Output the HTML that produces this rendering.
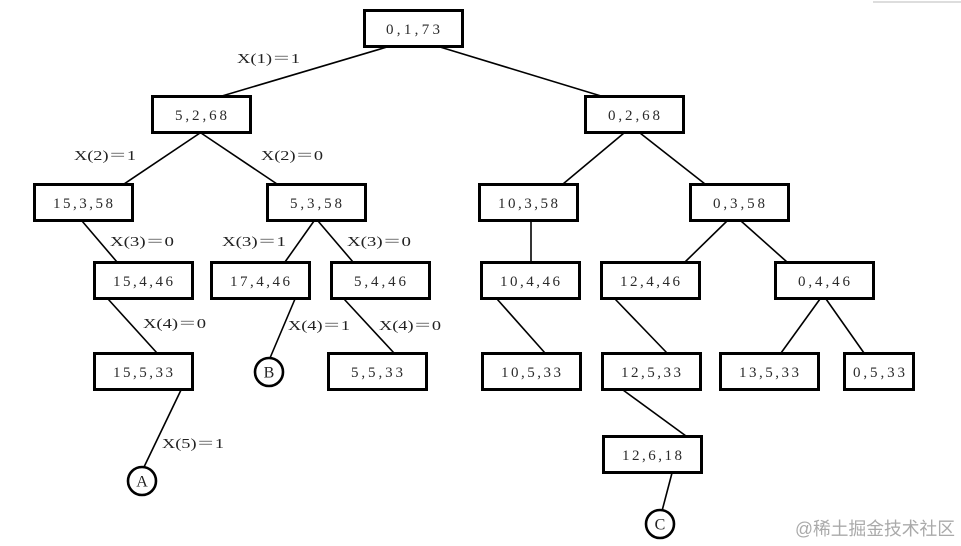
<!DOCTYPE html>
<html><head><meta charset="utf-8"><style>
html,body{margin:0;padding:0;background:#fff;}
svg{display:block;}
.b{fill:#fff;stroke:#000;stroke-width:3;}
.l{stroke:#000;stroke-width:1.6;fill:none;}
.t{font-family:"Liberation Serif","Noto Serif CJK SC",serif;font-size:15px;fill:#2a2a2a;}
.e{font-family:"Liberation Serif","Noto Serif CJK SC",serif;font-size:14px;fill:#222;}
.c{fill:#fff;stroke:#000;stroke-width:2.6;}
.k{font-family:"Liberation Serif",serif;font-size:16px;fill:#222;}
</style></head><body>
<svg width="961" height="546" viewBox="0 0 961 546" xmlns="http://www.w3.org/2000/svg">
<line x1="873" y1="2" x2="961" y2="2" stroke="#bbb" stroke-width="1"/>
<g class="l">
<line x1="387" y1="47" x2="222" y2="96"/>
<line x1="440" y1="47" x2="601" y2="96"/>
<line x1="200" y1="133" x2="124" y2="184"/>
<line x1="201" y1="133" x2="277" y2="184"/>
<line x1="82" y1="221" x2="117" y2="262"/>
<line x1="314" y1="221" x2="285" y2="262"/>
<line x1="318" y1="221" x2="353" y2="262"/>
<line x1="624" y1="133" x2="563" y2="184"/>
<line x1="640" y1="133" x2="705" y2="184"/>
<line x1="531" y1="221" x2="531" y2="262"/>
<line x1="727" y1="221" x2="685" y2="262"/>
<line x1="741" y1="221" x2="787" y2="262"/>
<line x1="108" y1="299" x2="157" y2="353"/>
<line x1="295" y1="299" x2="270" y2="358"/>
<line x1="344" y1="299" x2="394" y2="353"/>
<line x1="181" y1="390" x2="144" y2="467"/>
<line x1="497" y1="299" x2="545" y2="353"/>
<line x1="615" y1="299" x2="667" y2="353"/>
<line x1="820" y1="299" x2="781" y2="353"/>
<line x1="826" y1="299" x2="864" y2="353"/>
<line x1="623" y1="390" x2="686" y2="436"/>
<line x1="672" y1="473" x2="662" y2="511"/>
</g>
<g>
<rect class="b" x="364.5" y="10.5" width="98" height="36"/>
<rect class="b" x="152.5" y="96.5" width="98" height="36"/>
<rect class="b" x="585.5" y="96.5" width="98" height="36"/>
<rect class="b" x="34.5" y="184.5" width="98" height="36"/>
<rect class="b" x="267.5" y="184.5" width="98" height="36"/>
<rect class="b" x="479.5" y="184.5" width="98" height="36"/>
<rect class="b" x="690.5" y="184.5" width="98" height="36"/>
<rect class="b" x="94.5" y="262.5" width="98" height="36"/>
<rect class="b" x="211.5" y="262.5" width="98" height="36"/>
<rect class="b" x="331.5" y="262.5" width="98" height="36"/>
<rect class="b" x="481.5" y="262.5" width="98" height="36"/>
<rect class="b" x="601.5" y="262.5" width="98" height="36"/>
<rect class="b" x="775.5" y="262.5" width="98" height="36"/>
<rect class="b" x="94.5" y="353.5" width="98" height="36"/>
<rect class="b" x="328.5" y="353.5" width="98" height="36"/>
<rect class="b" x="482.5" y="353.5" width="98" height="36"/>
<rect class="b" x="602.5" y="353.5" width="98" height="36"/>
<rect class="b" x="720.5" y="353.5" width="98" height="36"/>
<rect class="b" x="844.5" y="353.5" width="69" height="36"/>
<rect class="b" x="603.5" y="436.5" width="98" height="36"/>
</g>
<g class="t" text-anchor="middle">
<text x="413" y="34" textLength="54" lengthAdjust="spacing">0,1,73</text>
<text x="201" y="120" textLength="52" lengthAdjust="spacing">5,2,68</text>
<text x="634" y="120" textLength="52" lengthAdjust="spacing">0,2,68</text>
<text x="83" y="208" textLength="60" lengthAdjust="spacing">15,3,58</text>
<text x="316" y="208" textLength="52" lengthAdjust="spacing">5,3,58</text>
<text x="528" y="208" textLength="60" lengthAdjust="spacing">10,3,58</text>
<text x="739" y="208" textLength="52" lengthAdjust="spacing">0,3,58</text>
<text x="143" y="286" textLength="60" lengthAdjust="spacing">15,4,46</text>
<text x="260" y="286" textLength="60" lengthAdjust="spacing">17,4,46</text>
<text x="380" y="286" textLength="52" lengthAdjust="spacing">5,4,46</text>
<text x="530" y="286" textLength="60" lengthAdjust="spacing">10,4,46</text>
<text x="650" y="286" textLength="60" lengthAdjust="spacing">12,4,46</text>
<text x="824" y="286" textLength="52" lengthAdjust="spacing">0,4,46</text>
<text x="143" y="377" textLength="60" lengthAdjust="spacing">15,5,33</text>
<text x="377" y="377" textLength="52" lengthAdjust="spacing">5,5,33</text>
<text x="531" y="377" textLength="60" lengthAdjust="spacing">10,5,33</text>
<text x="651" y="377" textLength="60" lengthAdjust="spacing">12,5,33</text>
<text x="769" y="377" textLength="60" lengthAdjust="spacing">13,5,33</text>
<text x="879" y="377" textLength="52" lengthAdjust="spacing">0,5,33</text>
<text x="652" y="460" textLength="60" lengthAdjust="spacing">12,6,18</text>
</g>
<circle class="c" cx="269" cy="372" r="14"/>
<circle class="c" cx="142" cy="481" r="14"/>
<circle class="c" cx="660" cy="524" r="14"/>
<g class="k" text-anchor="middle">
<text x="269" y="377.5">B</text>
<text x="142" y="486.5">A</text>
<text x="660" y="529.5">C</text>
</g>
<g class="e">
<text x="237" y="63" textLength="63" lengthAdjust="spacingAndGlyphs">X(1)＝1</text>
<text x="74" y="160" textLength="62" lengthAdjust="spacingAndGlyphs">X(2)＝1</text>
<text x="261" y="160" textLength="62" lengthAdjust="spacingAndGlyphs">X(2)＝0</text>
<text x="110" y="246" textLength="64" lengthAdjust="spacingAndGlyphs">X(3)＝0</text>
<text x="222" y="246" textLength="64" lengthAdjust="spacingAndGlyphs">X(3)＝1</text>
<text x="347" y="246" textLength="64" lengthAdjust="spacingAndGlyphs">X(3)＝0</text>
<text x="143" y="328" textLength="63" lengthAdjust="spacingAndGlyphs">X(4)＝0</text>
<text x="288" y="330" textLength="62" lengthAdjust="spacingAndGlyphs">X(4)＝1</text>
<text x="379" y="330" textLength="62" lengthAdjust="spacingAndGlyphs">X(4)＝0</text>
<text x="162" y="448" textLength="62" lengthAdjust="spacingAndGlyphs">X(5)＝1</text>
</g>
<text x="795" y="535" font-family="'Liberation Sans','Noto Sans CJK SC',sans-serif" font-size="18" fill="#aaa" textLength="160" lengthAdjust="spacingAndGlyphs">@稀土掘金技术社区</text>
</svg>
</body></html>
